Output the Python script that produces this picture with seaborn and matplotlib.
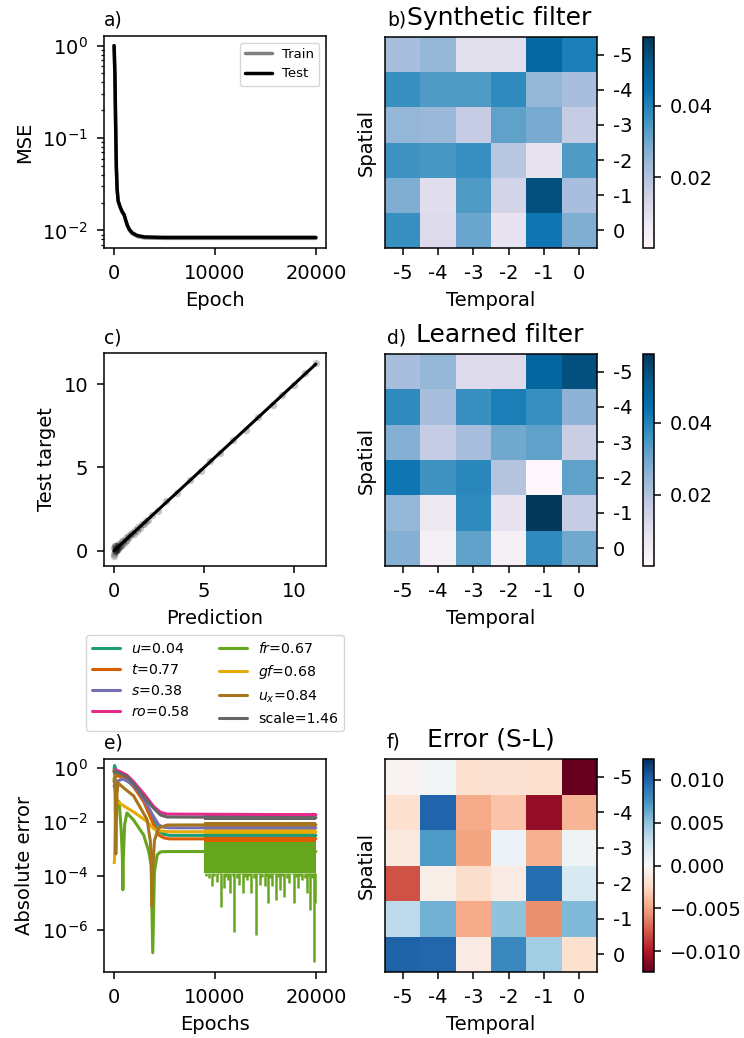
import numpy as np
import pandas as pd
import matplotlib
matplotlib.use("Agg")
import matplotlib.pyplot as plt
import matplotlib.ticker as mticker
import seaborn as sns

# ---------------- data ----------------
# a) loss curves
loss_epochs = [0, 80, 150, 220, 300, 400, 600, 800, 1000, 1150, 1300, 1500, 1800, 2300, 3000, 5000, 20000]
test_mse = [1.0, 0.5, 0.15, 0.05, 0.028, 0.021, 0.018, 0.016, 0.0148, 0.013, 0.0115, 0.0103, 0.0094, 0.0088, 0.0085, 0.0084, 0.0084]
train_mse = [1.0, 0.49, 0.147, 0.049, 0.0275, 0.0206, 0.0177, 0.0157, 0.0145, 0.0127, 0.0113, 0.0101, 0.0092, 0.0086, 0.0083, 0.0082, 0.0082]

# c) prediction vs test target
prediction = [0.00, 0.01, 0.02, 0.03, 0.04, 0.05, 0.06, 0.08, 0.10, 0.12, 0.14, 0.16, 0.18, 0.20, 0.23,
              0.26, 0.30, 0.34, 0.38, 0.42, 0.47, 0.52, 0.58, 0.64, 0.70, 0.77, 0.84, 0.92, 1.00, 1.08,
              1.16, 1.25, 1.34, 1.44, 1.55, 1.66, 1.78, 1.90, 2.10, 2.45, 2.90, 3.50, 4.20, 4.80, 5.30,
              5.90, 6.60, 7.30, 8.00, 8.80, 9.30, 10.00, 10.60, 11.20]
test_target = [-0.34, 0.15, -0.20, 0.25, -0.10, 0.05, 0.30, -0.05, 0.18, 0.02, 0.28, 0.05, 0.10, 0.35, 0.12,
               0.20, 0.40, 0.25, 0.30, 0.55, 0.38, 0.60, 0.50, 0.75, 0.62, 0.88, 0.80, 0.98, 1.05, 1.02,
               1.22, 1.20, 1.40, 1.38, 1.60, 1.62, 1.80, 1.85, 2.12, 2.40, 2.95, 3.45, 4.25, 4.75, 5.35,
               5.85, 6.65, 7.25, 8.05, 8.75, 9.35, 9.95, 10.65, 11.28]

# heatmaps (rows: spatial -5..0 top to bottom, cols: temporal -5..0)
temporal_labels = ["-5", "-4", "-3", "-2", "-1", "0"]
spatial_labels = ["-5", "-4", "-3", "-2", "-1", "0"]
synthetic = [
    [0.022, 0.025, 0.010, 0.010, 0.047, 0.041],
    [0.037, 0.034, 0.034, 0.038, 0.025, 0.022],
    [0.025, 0.024, 0.017, 0.032, 0.029, 0.017],
    [0.036, 0.035, 0.037, 0.019, 0.009, 0.034],
    [0.028, 0.011, 0.034, 0.014, 0.054, 0.022],
    [0.037, 0.012, 0.031, 0.009, 0.043, 0.028],
]
learned = [
    [0.022, 0.025, 0.012, 0.012, 0.048, 0.054],
    [0.038, 0.022, 0.037, 0.041, 0.037, 0.026],
    [0.027, 0.017, 0.022, 0.030, 0.032, 0.016],
    [0.043, 0.036, 0.039, 0.020, 0.0003, 0.032],
    [0.025, 0.007, 0.038, 0.009, 0.0591, 0.017],
    [0.027, 0.004, 0.032, 0.004, 0.038, 0.030],
]
error_sl = [
    [-0.0003, 0.0003, -0.0020, -0.0018, -0.0020, -0.0124],
    [-0.0020, 0.0099, -0.0047, -0.0035, -0.0109, -0.0042],
    [-0.0012, 0.0070, -0.0049, 0.0007, -0.0044, 0.0005],
    [-0.0079, -0.0007, -0.0022, -0.0010, 0.0094, 0.0020],
    [0.0032, 0.0060, -0.0047, 0.0050, -0.0057, 0.0055],
    [0.0100, 0.0098, -0.0010, 0.0080, 0.0043, -0.0020],
]

# e) absolute error of parameters
param_labels = ["$u$=0.04", "$t$=0.77", "$s$=0.38", "$ro$=0.58",
                "$fr$=0.67", "$gf$=0.68", "$u_x$=0.84", "scale=1.46"]
u_ep = [0, 50, 300, 600, 1270, 1930, 2930, 3930, 4430, 4930, 5500, 20000]
u_val = [0.9, 1.2, 0.6, 0.46, 0.35, 0.2, 0.064, 0.01, 0.0045, 0.0034, 0.0031, 0.0031]
t_ep = [0, 100, 300, 1000, 1930, 2930, 3930, 4430, 4930, 5500, 20000]
t_val = [0.3, 0.45, 0.5, 0.45, 0.2, 0.055, 0.0075, 0.0032, 0.0025, 0.0023, 0.0023]
s_ep = [0, 100, 900, 1930, 2930, 3930, 4430, 4930, 5500, 20000]
s_val = [0.2, 0.3, 0.38, 0.23, 0.07, 0.015, 0.0075, 0.0062, 0.0059, 0.0059]
ro_ep = [0, 100, 600, 1270, 1930, 2930, 3930, 4600, 5270, 20000]
ro_val = [0.75, 0.85, 0.71, 0.53, 0.3, 0.11, 0.036, 0.022, 0.019, 0.018]
fr_ep = [0, 100, 300, 500, 700, 820, 870, 920, 1050, 1270, 1930, 2930, 3430, 3670, 3830, 4000, 4270, 4600, 5270, 20000]
fr_val = [0.4, 0.15, 0.06, 0.055, 0.005, 5e-4, 3e-5, 5e-4, 0.008, 0.021, 0.0115, 0.0032, 8e-4, 2.5e-4, 1.4e-7,
          1.4e-4, 5.9e-4, 7.6e-4, 7.8e-4, 7.8e-4]
gf_ep = [0, 30, 150, 300, 600, 1930, 3270, 3930, 4600, 5600, 20000]
gf_val = [3e-4, 3e-4, 0.03, 0.063, 0.046, 0.023, 0.01, 0.0054, 0.0045, 0.0042, 0.0042]
ux_ep = [0, 80, 170, 280, 400, 930, 1930, 3270, 3600, 3700, 3770, 3850, 4000, 4400, 5270, 20000]
ux_val = [0.8, 0.5, 6.3e-4, 0.1, 0.27, 0.18, 0.09, 0.012, 0.0018, 2e-4, 7e-6, 2e-4, 0.002, 0.0058, 0.0075, 0.0077]
scale_ep = [0, 100, 600, 1270, 1930, 2930, 3930, 4600, 5270, 20000]
scale_val = [0.7, 0.75, 0.62, 0.46, 0.26, 0.084, 0.031, 0.0176, 0.0148, 0.0140]

# late-training oscillation band (epochs 8900-20000), lower/upper bounds per parameter
band_epochs = [8900, 20000]
band_low = [0.0027, 0.0018, 0.0054, 0.0162, 1.3e-4, 0.0030, 0.0066, 0.0115]
band_high = [0.0034, 0.0030, 0.0066, 0.0204, 1.8e-3, 0.0054, 0.0093, 0.0155]
# downward spikes of fr in the oscillating regime
fr_spike_ep = [9100, 9430, 9700, 9950, 10200, 10420, 10600, 10870, 11100, 11270, 11530, 11750, 11930, 12150,
               12330, 12550, 12770, 13000, 13200, 13400, 13600, 13820, 14030, 14250, 14430, 14700, 14930,
               15100, 15270, 15470, 15670, 15850, 16000, 16200, 16430, 16650, 16870, 17100, 17330, 17600,
               17870, 18050, 18270, 18470, 18670, 18900, 19100, 19270, 19430, 19600, 19770, 19950]
fr_spike_val = [10 ** v for v in [-4.0, -4.1, -4.4, -4.0, -4.22, -3.95, -5.15, -4.47, -4.05, -4.16, -4.65,
                                  -4.0, -6.07, -4.1, -4.35, -3.95, -4.65, -4.05, -4.16, -4.0, -4.65, -4.1,
                                  -6.2, -3.95, -4.35, -4.05, -4.4, -4.0, -5.0, -4.1, -4.4, -3.95, -4.9,
                                  -4.05, -4.53, -4.0, -4.78, -4.1, -4.28, -3.95, -5.0, -4.05, -4.47, -4.0,
                                  -4.16, -4.1, -4.65, -4.0, -5.27, -4.1, -7.19, -5.0]]

# ---------------- style ----------------
sns.set_theme(style="ticks")
plt.rcParams.update({
    "font.family": ["DejaVu Sans"],
    "font.size": 14,
    "axes.labelsize": 14,
    "xtick.labelsize": 14,
    "ytick.labelsize": 14,
    "legend.fontsize": 10,
    "axes.linewidth": 1.1,
    "axes.edgecolor": "black",
    "axes.labelcolor": "black",
    "axes.labelpad": 5.5,
    "text.color": "black",
    "xtick.color": "black",
    "ytick.color": "black",
    "xtick.major.size": 5,
    "ytick.major.size": 5,
    "xtick.major.width": 1.1,
    "ytick.major.width": 1.1,
    "xtick.minor.size": 2.5,
    "ytick.minor.size": 2.5,
    "xtick.minor.width": 0.9,
    "ytick.minor.width": 0.9,
    "xtick.major.pad": 6.5,
    "ytick.major.pad": 6.5,
    "xtick.minor.pad": 6.5,
    "ytick.minor.pad": 6.5,
    "axes.facecolor": "white",
    "figure.facecolor": "white",
})

W, H = 744, 1038
fig = plt.figure(figsize=(W / 100, H / 100), dpi=100)


def rect(l, t, r, b):
    return [l / W, 1 - b / H, (r - l) / W, (b - t) / H]


def panel_label(ax, s, dy_px):
    h = ax.get_position().height * H
    ax.text(0.0, 1 + dy_px / h, s, transform=ax.transAxes, fontsize=13.5, ha="left", va="baseline")


# ---------------- a) ----------------
ax_a = fig.add_axes(rect(104, 36, 326, 248))
sns.lineplot(x=loss_epochs, y=train_mse, ax=ax_a, color="#808080", lw=2.5, label="Train", estimator=None)
sns.lineplot(x=loss_epochs, y=test_mse, ax=ax_a, color="black", lw=2.5, label="Test", estimator=None)
ax_a.set_yscale("log")
ax_a.set_xlabel("Epoch")
ax_a.set_ylabel("MSE")
ax_a.set_xticks([0, 10000, 20000])
ax_a.legend(loc="upper right", fontsize=9.5)
panel_label(ax_a, "a)", 10)

# ---------------- c) ----------------
ax_c = fig.add_axes(rect(104, 353, 326, 566))
sns.scatterplot(x=prediction, y=test_target, ax=ax_c, color="black", alpha=0.22, s=28, linewidth=0)
line_xy = [min(prediction), max(prediction)]
sns.lineplot(x=line_xy, y=line_xy, ax=ax_c, color="black", lw=2.2, estimator=None)
ax_c.set_xlabel("Prediction")
ax_c.set_ylabel("Test target")
ax_c.set_xticks([0, 5, 10])
ax_c.set_yticks([0, 5, 10])
panel_label(ax_c, "c)", 10)

# ---------------- e) ----------------
ax_e = fig.add_axes(rect(104, 759, 326, 972))
colors = sns.color_palette("Dark2", 8)
series = [(u_ep, u_val), (t_ep, t_val), (s_ep, s_val), (ro_ep, ro_val),
          (fr_ep, fr_val), (gf_ep, gf_val), (ux_ep, ux_val), (scale_ep, scale_val)]
for i, (ep, val) in enumerate(series):
    ax_e.fill_between(band_epochs, [band_low[i]] * 2, [band_high[i]] * 2, color=colors[i], linewidth=0)
    if i == 4:
        ax_e.vlines(fr_spike_ep, band_low[i], fr_spike_val, color=colors[i], lw=1.8)
    sns.lineplot(x=ep, y=val, ax=ax_e, color=colors[i], lw=2.2, label=param_labels[i], estimator=None)
ax_e.set_yscale("log")
ax_e.set_ylim(10 ** -7.57, 10 ** 0.32)
ax_e.yaxis.set_major_locator(mticker.FixedLocator([1, 1e-2, 1e-4, 1e-6]))
ax_e.yaxis.set_minor_locator(mticker.NullLocator())
ax_e.set_xticks([0, 10000, 20000])
ax_e.set_xlabel("Epochs")
ax_e.set_ylabel("Absolute error")
ax_e.legend(ncol=2, loc="lower center", bbox_to_anchor=(0.5, 1.097), fontsize=10.2)
panel_label(ax_e, "e)", 10.5)


# ---------------- heatmaps ----------------
def heat(axr, caxr, data, cmap, vmin, vmax, ticks, title, title_cx, label):
    ax = fig.add_axes(rect(*axr))
    cax = fig.add_axes(rect(*caxr))
    df = pd.DataFrame(data, index=spatial_labels, columns=temporal_labels)
    sns.heatmap(df, ax=ax, cbar_ax=cax, cmap=cmap, vmin=vmin, vmax=vmax, linewidths=0)
    for sp in ax.spines.values():
        sp.set_visible(True)
        sp.set_linewidth(1.1)
        sp.set_color("black")
    ax.yaxis.tick_right()
    ax.yaxis.set_label_position("left")
    ax.tick_params(axis="y", labelrotation=0, length=5, width=1.1, right=True, left=False, pad=6.5)
    ax.tick_params(axis="x", labelrotation=0, length=5, width=1.1, pad=6.5)
    ax.set_xlabel("Temporal")
    ax.set_ylabel("Spatial", labelpad=7)
    cb = ax.collections[0].colorbar
    cb.outline.set_visible(True)
    cb.outline.set_linewidth(1.1)
    cb.outline.set_edgecolor("black")
    cb.set_ticks(ticks)
    cax.tick_params(length=5, width=1.1, labelsize=14, pad=6.5)
    h = ax.get_position().height * H
    wpx = ax.get_position().width * W
    ax.text((title_cx - axr[0]) / wpx, 1 + 12.5 / h, title, transform=ax.transAxes,
            fontsize=18, ha="center", va="baseline")
    panel_label(ax, label, 11)
    ax.texts[-1].set_x(2 / wpx)
    return ax


heat((385, 37, 597, 248), (643, 37, 654, 248), synthetic, "PuBu", 0.0003, 0.0591,
     [0.02, 0.04], "Synthetic filter", 499, "b)")
heat((385, 354, 597, 566), (643, 354, 654, 566), learned, "PuBu", 0.0003, 0.0591,
     [0.02, 0.04], "Learned filter", 499.5, "d)")
heat((385, 759, 597, 972), (643, 759, 654, 972), error_sl, "RdBu", -0.0124, 0.0124,
     [-0.01, -0.005, 0.0, 0.005, 0.01], "Error (S-L)", 490.5, "f)")

fig.savefig("out.png", dpi=100)
